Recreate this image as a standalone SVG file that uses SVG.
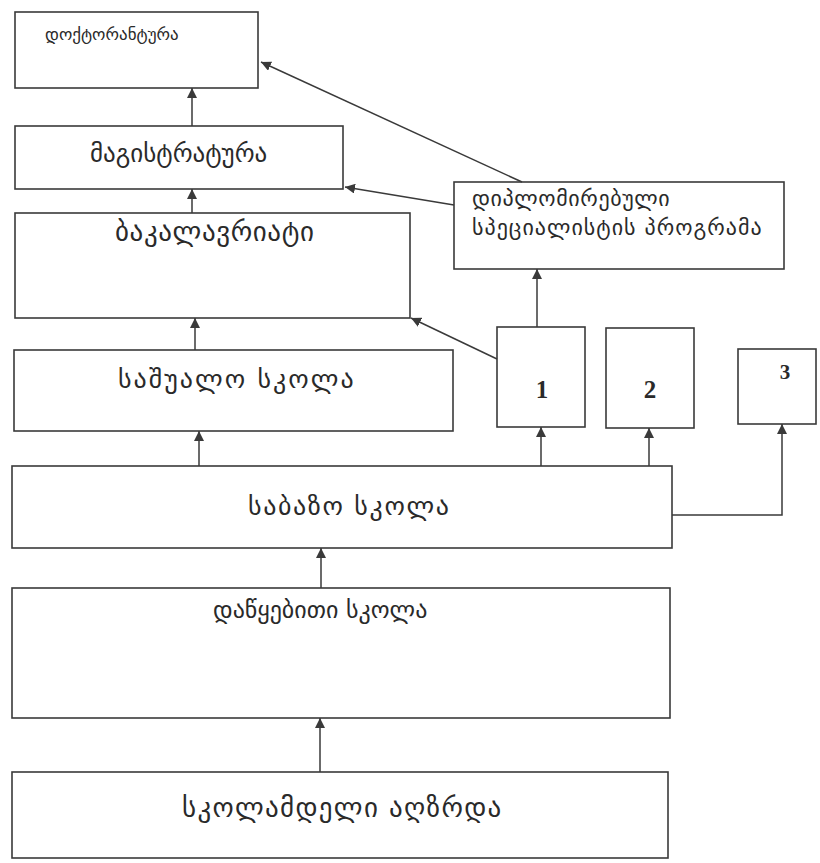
<svg xmlns="http://www.w3.org/2000/svg" width="820" height="863" viewBox="0 0 820 863">
<style>
.box{fill:none;stroke:#3a3a3a;stroke-width:1.6}
.ln{fill:none;stroke:#3a3a3a;stroke-width:1.5}
.ka{font-family:"DejaVu Sans",sans-serif;fill:#2a2a2a}
.num{font-family:"Liberation Serif",serif;font-weight:bold;fill:#2a2a2a;text-anchor:middle}
</style>
<defs>
<marker id="ah" viewBox="0 0 10 10" refX="10" refY="5" markerWidth="10" markerHeight="10" markerUnits="userSpaceOnUse" orient="auto">
<path d="M0,0 L10,5 L0,10 Z" fill="#3a3a3a"/>
</marker>
</defs>
<rect width="820" height="863" fill="#ffffff"/>
<g id="doctorantura">
<rect class="box" x="15" y="12" width="243" height="76"/>
<text class="ka" x="45" y="40" font-size="17">დოქტორანტურა</text>
</g>
<g id="magistratura">
<rect class="box" x="15" y="126" width="328" height="63"/>
<text class="ka" x="90" y="162" font-size="25">მაგისტრატურა</text>
</g>
<g id="bakalavriati">
<rect class="box" x="15" y="213" width="395" height="105"/>
<text class="ka" x="115" y="241" font-size="27" letter-spacing="0.6">ბაკალავრიატი</text>
</g>
<g id="sashualo">
<rect class="box" x="14" y="350" width="439" height="81"/>
<text class="ka" x="118" y="388" font-size="26" letter-spacing="2">საშუალო სკოლა</text>
</g>
<g id="sabazo">
<rect class="box" x="12" y="466" width="660" height="82"/>
<text class="ka" x="248" y="515" font-size="26" letter-spacing="1.6">საბაზო სკოლა</text>
</g>
<g id="dawyebiti">
<rect class="box" x="12" y="588" width="658" height="130"/>
<text class="ka" x="213" y="618" font-size="24">დაწყებითი სკოლა</text>
</g>
<g id="skolamdeli">
<rect class="box" x="12" y="772" width="656" height="86"/>
<text class="ka" x="182" y="817" font-size="27" letter-spacing="1.3">სკოლამდელი აღზრდა</text>
</g>
<g id="diplomirebuli">
<rect class="box" x="454" y="182" width="330" height="87"/>
<text class="ka" x="472" y="206" font-size="22" letter-spacing="0.6">დიპლომირებული</text>
<text class="ka" x="472" y="235" font-size="22" letter-spacing="1">სპეციალისტის პროგრამა</text>
</g>
<g id="n1">
<rect class="box" x="497" y="327" width="88" height="100"/>
<text class="num" x="542" y="398" font-size="25">1</text>
</g>
<g id="n2">
<rect class="box" x="606" y="328" width="88" height="100"/>
<text class="num" x="650" y="398" font-size="25">2</text>
</g>
<g id="n3">
<rect class="box" x="738" y="349" width="78" height="75"/>
<text class="num" x="785" y="379" font-size="21">3</text>
</g>
<g id="connectors">
<line class="ln" x1="192" y1="126" x2="192" y2="88" marker-end="url(#ah)"/>
<line class="ln" x1="192" y1="213" x2="192" y2="189" marker-end="url(#ah)"/>
<line class="ln" x1="195" y1="350" x2="195" y2="318" marker-end="url(#ah)"/>
<line class="ln" x1="199" y1="466" x2="199" y2="431" marker-end="url(#ah)"/>
<line class="ln" x1="321" y1="588" x2="321" y2="548" marker-end="url(#ah)"/>
<line class="ln" x1="320" y1="772" x2="320" y2="718" marker-end="url(#ah)"/>
<line class="ln" x1="541" y1="466" x2="541" y2="427" marker-end="url(#ah)"/>
<line class="ln" x1="649" y1="466" x2="649" y2="428" marker-end="url(#ah)"/>
<polyline class="ln" points="672,515 782,515 782,424" marker-end="url(#ah)"/>
<line class="ln" x1="537" y1="327" x2="537" y2="269" marker-end="url(#ah)"/>
<line class="ln" x1="497" y1="359" x2="411" y2="318" marker-end="url(#ah)"/>
<line class="ln" x1="454" y1="205" x2="345" y2="187" marker-end="url(#ah)"/>
<line class="ln" x1="522" y1="182" x2="261" y2="62" marker-end="url(#ah)"/>
</g>
</svg>
